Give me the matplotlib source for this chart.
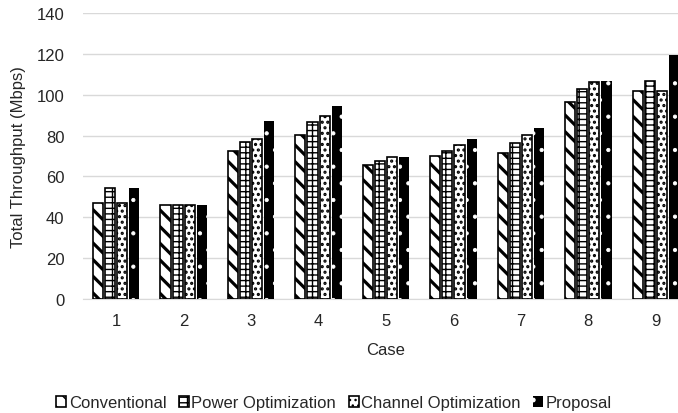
import numpy as np
import matplotlib as mpl
import matplotlib.pyplot as plt

plt.rcParams['font.family'] = ['Liberation Sans', 'DejaVu Sans']

cases = ['1', '2', '3', '4', '5', '6', '7', '8', '9']
conventional = [46.9, 46.2, 72.5, 80.5, 65.6, 70.2, 71.4, 96.3, 102.0]
power_opt = [54.5, 46.2, 76.7, 86.5, 67.7, 72.3, 76.5, 102.8, 106.6]
channel_opt = [46.9, 46.2, 78.2, 89.5, 69.4, 75.3, 80.2, 106.1, 102.0]
proposal = [54.5, 46.2, 87.3, 94.7, 69.4, 78.3, 83.6, 106.6, 119.5]

# name, values, face, hatch colour, hatch, hatch linewidth
series = [
    ('Conventional', conventional, 'white', 'black', '\\\\', 2.3),
    ('Power Optimization', power_opt, 'white', 'black', '---||', 1.0),
    ('Channel Optimization', channel_opt, 'white', 'black', '...', 1.5),
    ('Proposal', proposal, 'black', 'white', '.', 0.6),
]

fig = plt.figure(figsize=(6.78, 4.14), dpi=100)
# axes runs past the right edge like the original screenshot
ax = fig.add_axes([82.5 / 678, 114 / 414, 607 / 678, 286 / 414])

x = np.arange(len(cases))
width = 0.15
step = 0.18
handles = []
for i, (name, vals, fc, hc, hatch, hlw) in enumerate(series):
    pos = x + (i - 1.5) * step
    with mpl.rc_context({'hatch.linewidth': hlw}):
        if fc == 'black':
            b = ax.bar(pos, vals, width=width, color=fc, edgecolor=hc, linewidth=0,
                       hatch=hatch, zorder=3, label=name)
        else:
            b = ax.bar(pos, vals, width=width, color=fc, edgecolor=hc, linewidth=1.2,
                       hatch=hatch, zorder=3, label=name)
    handles.append(b)

ax.set_xlim(-0.5, len(cases) - 0.5)
ax.set_ylim(0, 140)
ax.set_yticks(np.arange(0, 141, 20))
ax.set_xticks(x, cases)
ax.grid(axis='y', color='#d9d9d9', linewidth=1, zorder=0)
for s in ['top', 'right', 'left']:
    ax.spines[s].set_visible(False)
ax.spines['bottom'].set_color('#d9d9d9')
ax.tick_params(axis='both', length=0, labelsize=12, colors='#262626')
ax.tick_params(axis='x', pad=10)
ax.tick_params(axis='y', pad=13)

ax.set_xlabel('Case', fontsize=12, color='#262626', labelpad=10)
fig.text(19 / 678, 1 - 157 / 414, 'Total Throughput (Mbps)', rotation=90,
         ha='center', va='center', fontsize=12, color='#262626')

fig.legend(handles=handles, loc='center', bbox_to_anchor=(334 / 678, 10 / 414),
           ncol=4, frameon=False, fontsize=12, handlelength=0.6, handleheight=0.6,
           handletextpad=0.15, columnspacing=0.75, labelcolor='#262626')

fig.savefig('out.png', dpi=100)
